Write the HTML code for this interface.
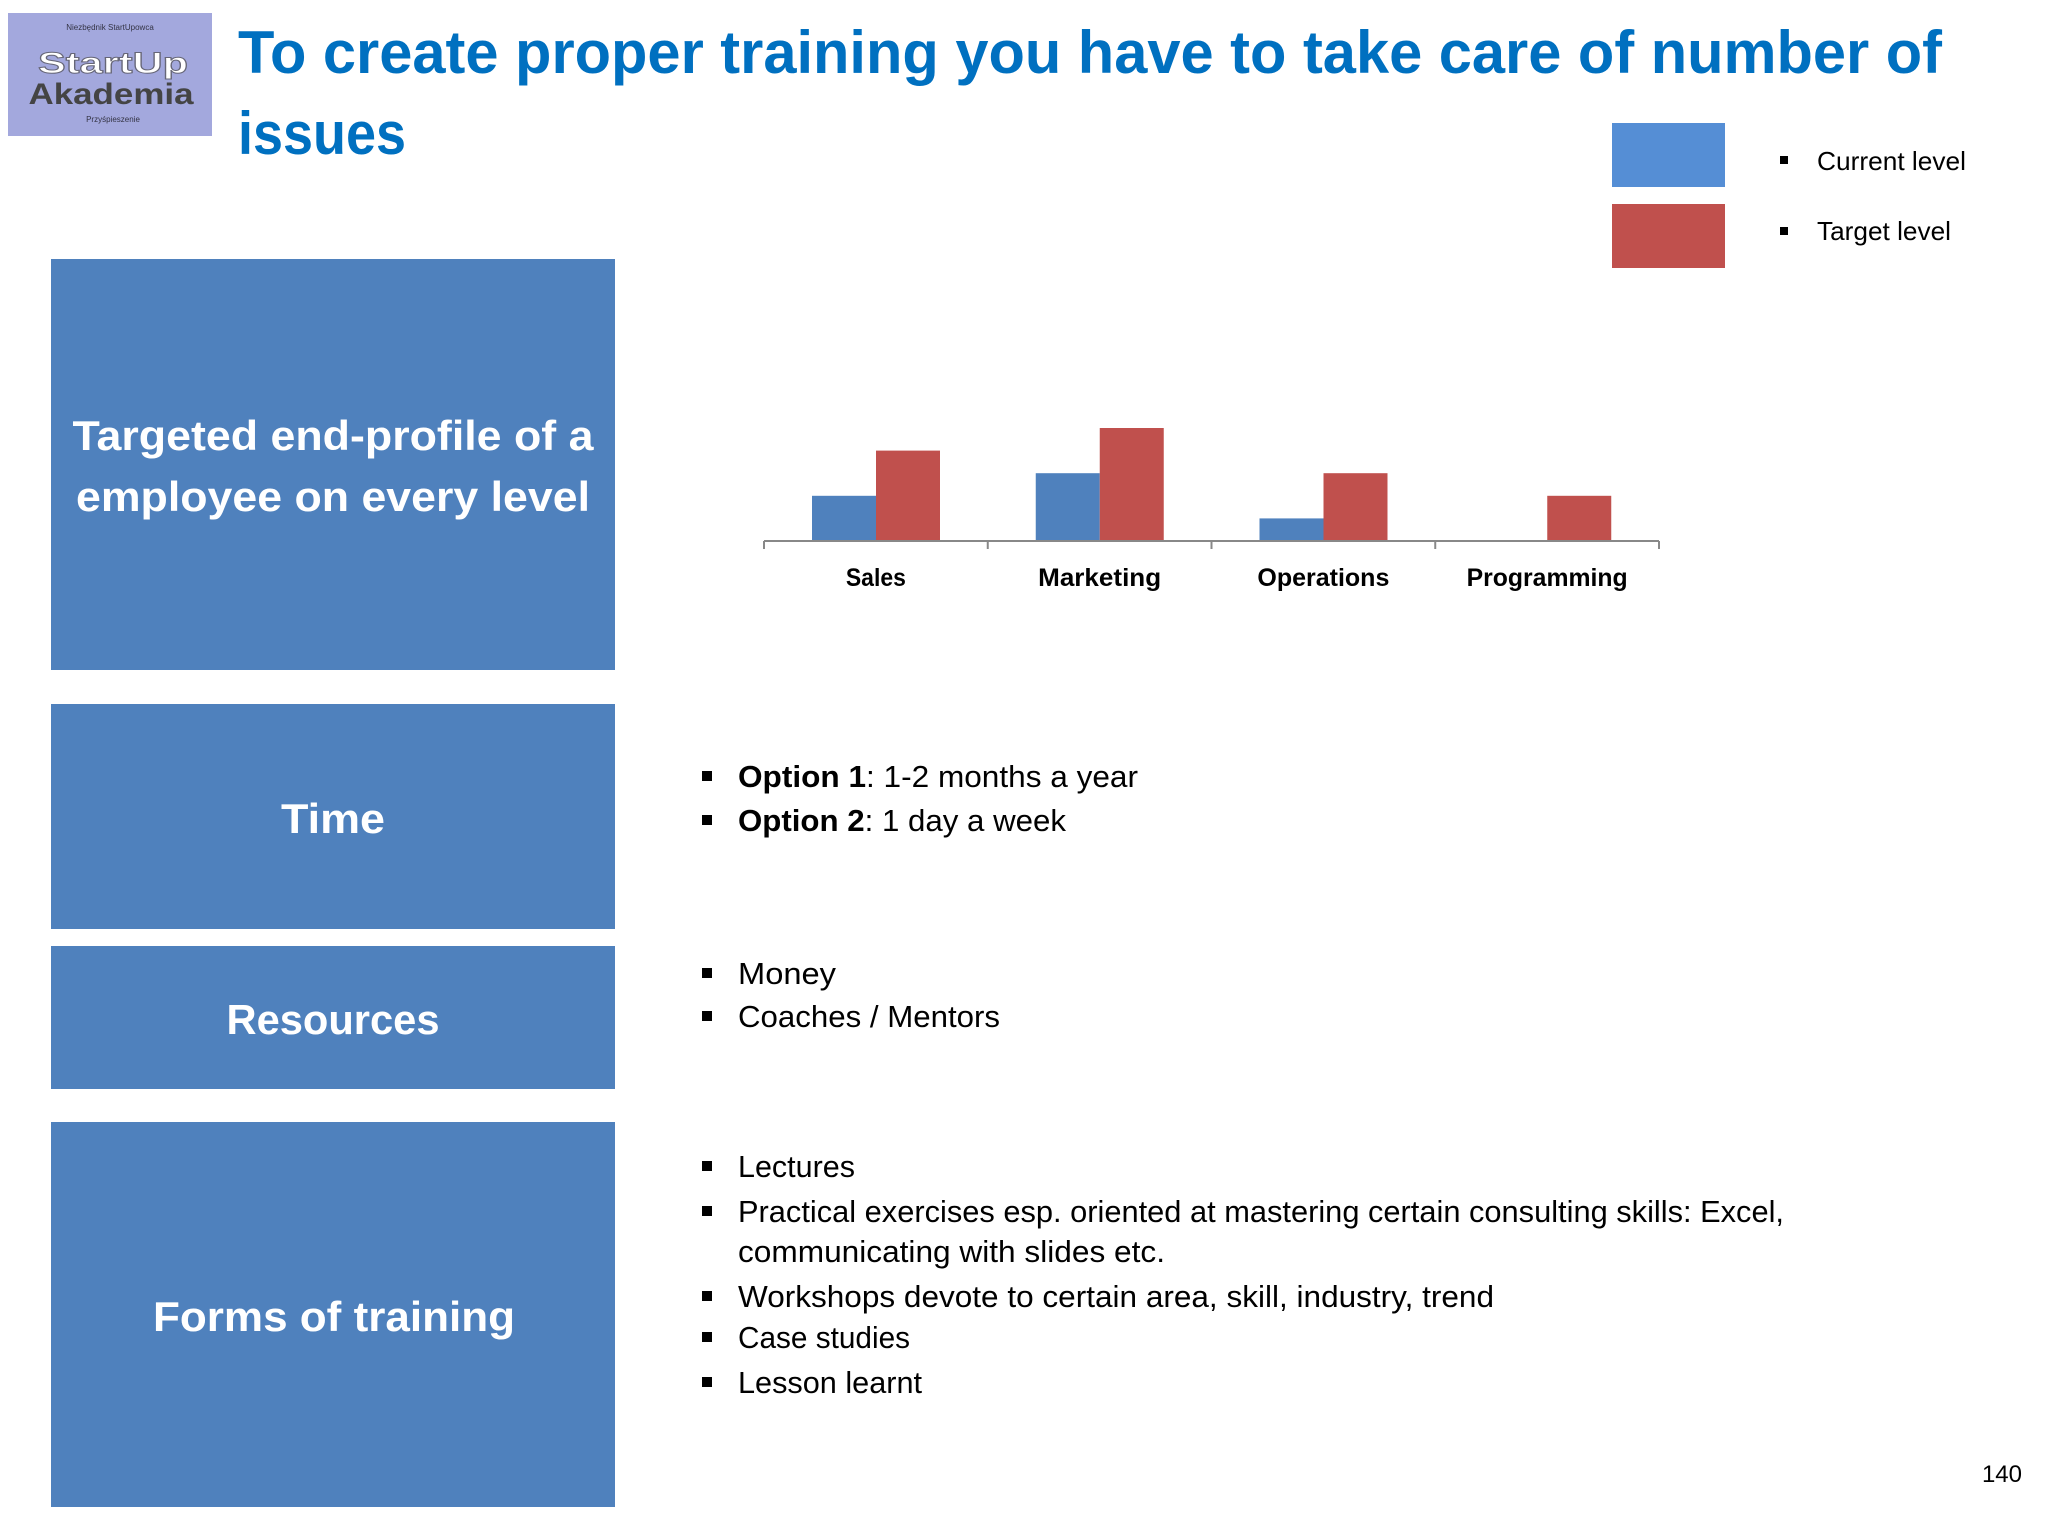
<!DOCTYPE html>
<html><head><meta charset="utf-8"><style>
html,body{margin:0;padding:0;background:#fff}
svg{display:block;font-family:"Liberation Sans",sans-serif}
</style></head><body>
<svg width="2048" height="1536" viewBox="0 0 2048 1536">
<g>
<rect x="8" y="13" width="204" height="123" fill="#a3a8dd"/>
<text x="110" y="30" font-size="8" fill="#334" text-anchor="middle">Niezbędnik StartUpowca</text>
<text x="113" y="73" font-size="30" font-weight="bold" fill="#fff" stroke="#667" stroke-width="1" text-anchor="middle" textLength="150" lengthAdjust="spacingAndGlyphs">StartUp</text>
<text x="111" y="104" font-size="30" font-weight="bold" fill="#444" text-anchor="middle" textLength="165" lengthAdjust="spacingAndGlyphs">Akademia</text>
<text x="113" y="122" font-size="8" fill="#334" text-anchor="middle">Przyśpieszenie</text>
</g>
<g fill="#0070c0" font-weight="bold" font-size="60">
<text x="238" y="73" textLength="1704" lengthAdjust="spacingAndGlyphs">To create proper training you have to take care of number of</text>
<text x="238" y="154" textLength="168" lengthAdjust="spacingAndGlyphs">issues</text>
</g>
<g font-size="26" fill="#000">
<rect x="1612" y="123" width="113" height="64" fill="#558ed5"/>
<rect x="1612" y="204" width="113" height="64" fill="#c0504d"/>
<rect x="1780" y="156" width="8" height="8"/>
<rect x="1780" y="227" width="8" height="8"/>
<text x="1817" y="170" textLength="149" lengthAdjust="spacingAndGlyphs">Current level</text>
<text x="1817" y="240" textLength="134" lengthAdjust="spacingAndGlyphs">Target level</text>
</g>
<g fill="#4f81bd">
<rect x="51" y="259" width="564" height="411"/>
<rect x="51" y="704" width="564" height="225"/>
<rect x="51" y="946" width="564" height="143"/>
<rect x="51" y="1122" width="564" height="385"/>
</g>
<g fill="#fff" font-weight="bold" font-size="42" text-anchor="middle">
<text x="333" y="450" textLength="521" lengthAdjust="spacingAndGlyphs">Targeted end-profile of a</text>
<text x="333" y="511" textLength="514" lengthAdjust="spacingAndGlyphs">employee on every level</text>
<text x="333" y="833" textLength="104" lengthAdjust="spacingAndGlyphs">Time</text>
<text x="333" y="1034" textLength="213" lengthAdjust="spacingAndGlyphs">Resources</text>
<text x="334" y="1331" textLength="362" lengthAdjust="spacingAndGlyphs">Forms of training</text>
</g>
<g id="chart"></g>
<g font-size="31" fill="#000">
<g id="bullets"></g>
<text x="738" y="787" textLength="400" lengthAdjust="spacingAndGlyphs"><tspan font-weight="bold">Option 1</tspan>:  1-2 months a year</text>
<text x="738" y="831" textLength="328" lengthAdjust="spacingAndGlyphs"><tspan font-weight="bold">Option 2</tspan>:  1 day a week</text>
<text x="738" y="984" textLength="98" lengthAdjust="spacingAndGlyphs">Money</text>
<text x="738" y="1027" textLength="262" lengthAdjust="spacingAndGlyphs">Coaches / Mentors</text>
<text x="738" y="1177" textLength="117" lengthAdjust="spacingAndGlyphs">Lectures</text>
<text x="738" y="1222" textLength="1046" lengthAdjust="spacingAndGlyphs">Practical exercises esp. oriented at mastering certain consulting skills: Excel,</text>
<text x="738" y="1262" textLength="427" lengthAdjust="spacingAndGlyphs">communicating with slides etc.</text>
<text x="738" y="1307" textLength="756" lengthAdjust="spacingAndGlyphs">Workshops devote to certain area, skill, industry, trend</text>
<text x="738" y="1348" textLength="172" lengthAdjust="spacingAndGlyphs">Case studies</text>
<text x="738" y="1393" textLength="184" lengthAdjust="spacingAndGlyphs">Lesson learnt</text>
</g>
<text x="2022" y="1482" font-size="24" text-anchor="end">140</text>
</svg>
<script>
const categories=["Sales","Marketing","Operations","Programming"];
const currentLevel=[2,3,1,0];
const targetLevel=[4,5,3,2];
const labelWidths=[60,123,132,161];
const NS="http://www.w3.org/2000/svg";
const chart=document.getElementById('chart');
const x0=764,x1=1659,axisY=541,unit=22.6;
const band=(x1-x0)/categories.length;
const xBand=i=>x0+i*band;
const yScale=v=>v*unit;
function mk(tag,attrs){const e=document.createElementNS(NS,tag);for(const k in attrs)e.setAttribute(k,attrs[k]);return e;}
categories.forEach((c,i)=>{
  const bx=xBand(i)+48,w=64;
  const b1=mk('rect',{x:bx,y:axisY-yScale(currentLevel[i]),width:w,height:yScale(currentLevel[i]),fill:'#4f81bd'});
  
  
  chart.appendChild(b1);
  const b2=mk('rect',{x:bx+w,y:axisY-yScale(targetLevel[i]),width:w,height:yScale(targetLevel[i]),fill:'#c0504d'});
  
  
  chart.appendChild(b2);
  const t=mk('text',{x:xBand(i)+band/2,y:586,'font-size':25,'font-weight':'bold','text-anchor':'middle',textLength:labelWidths[i],lengthAdjust:'spacingAndGlyphs'});
  t.textContent=c;
  
  
  chart.appendChild(t);
});
const ax=mk('line',{x1:x0,x2:x1,y1:axisY,y2:axisY,stroke:'#888','stroke-width':2});


chart.appendChild(ax);
for(let i=0;i<=categories.length;i++){
  const tk=mk('line',{x1:xBand(i),x2:xBand(i),y1:axisY,y2:axisY+8,stroke:'#888','stroke-width':2});
  
  
  chart.appendChild(tk);
}
const bulletYs=[776,820,973,1016,1166,1211,1296,1337,1382];
const bg=document.getElementById('bullets');
bulletYs.forEach(y=>{
  const r=mk('rect',{x:702,y:y-5,width:10,height:10,fill:'#000'});
  
  
  bg.appendChild(r);
});
</script>
</body></html>
